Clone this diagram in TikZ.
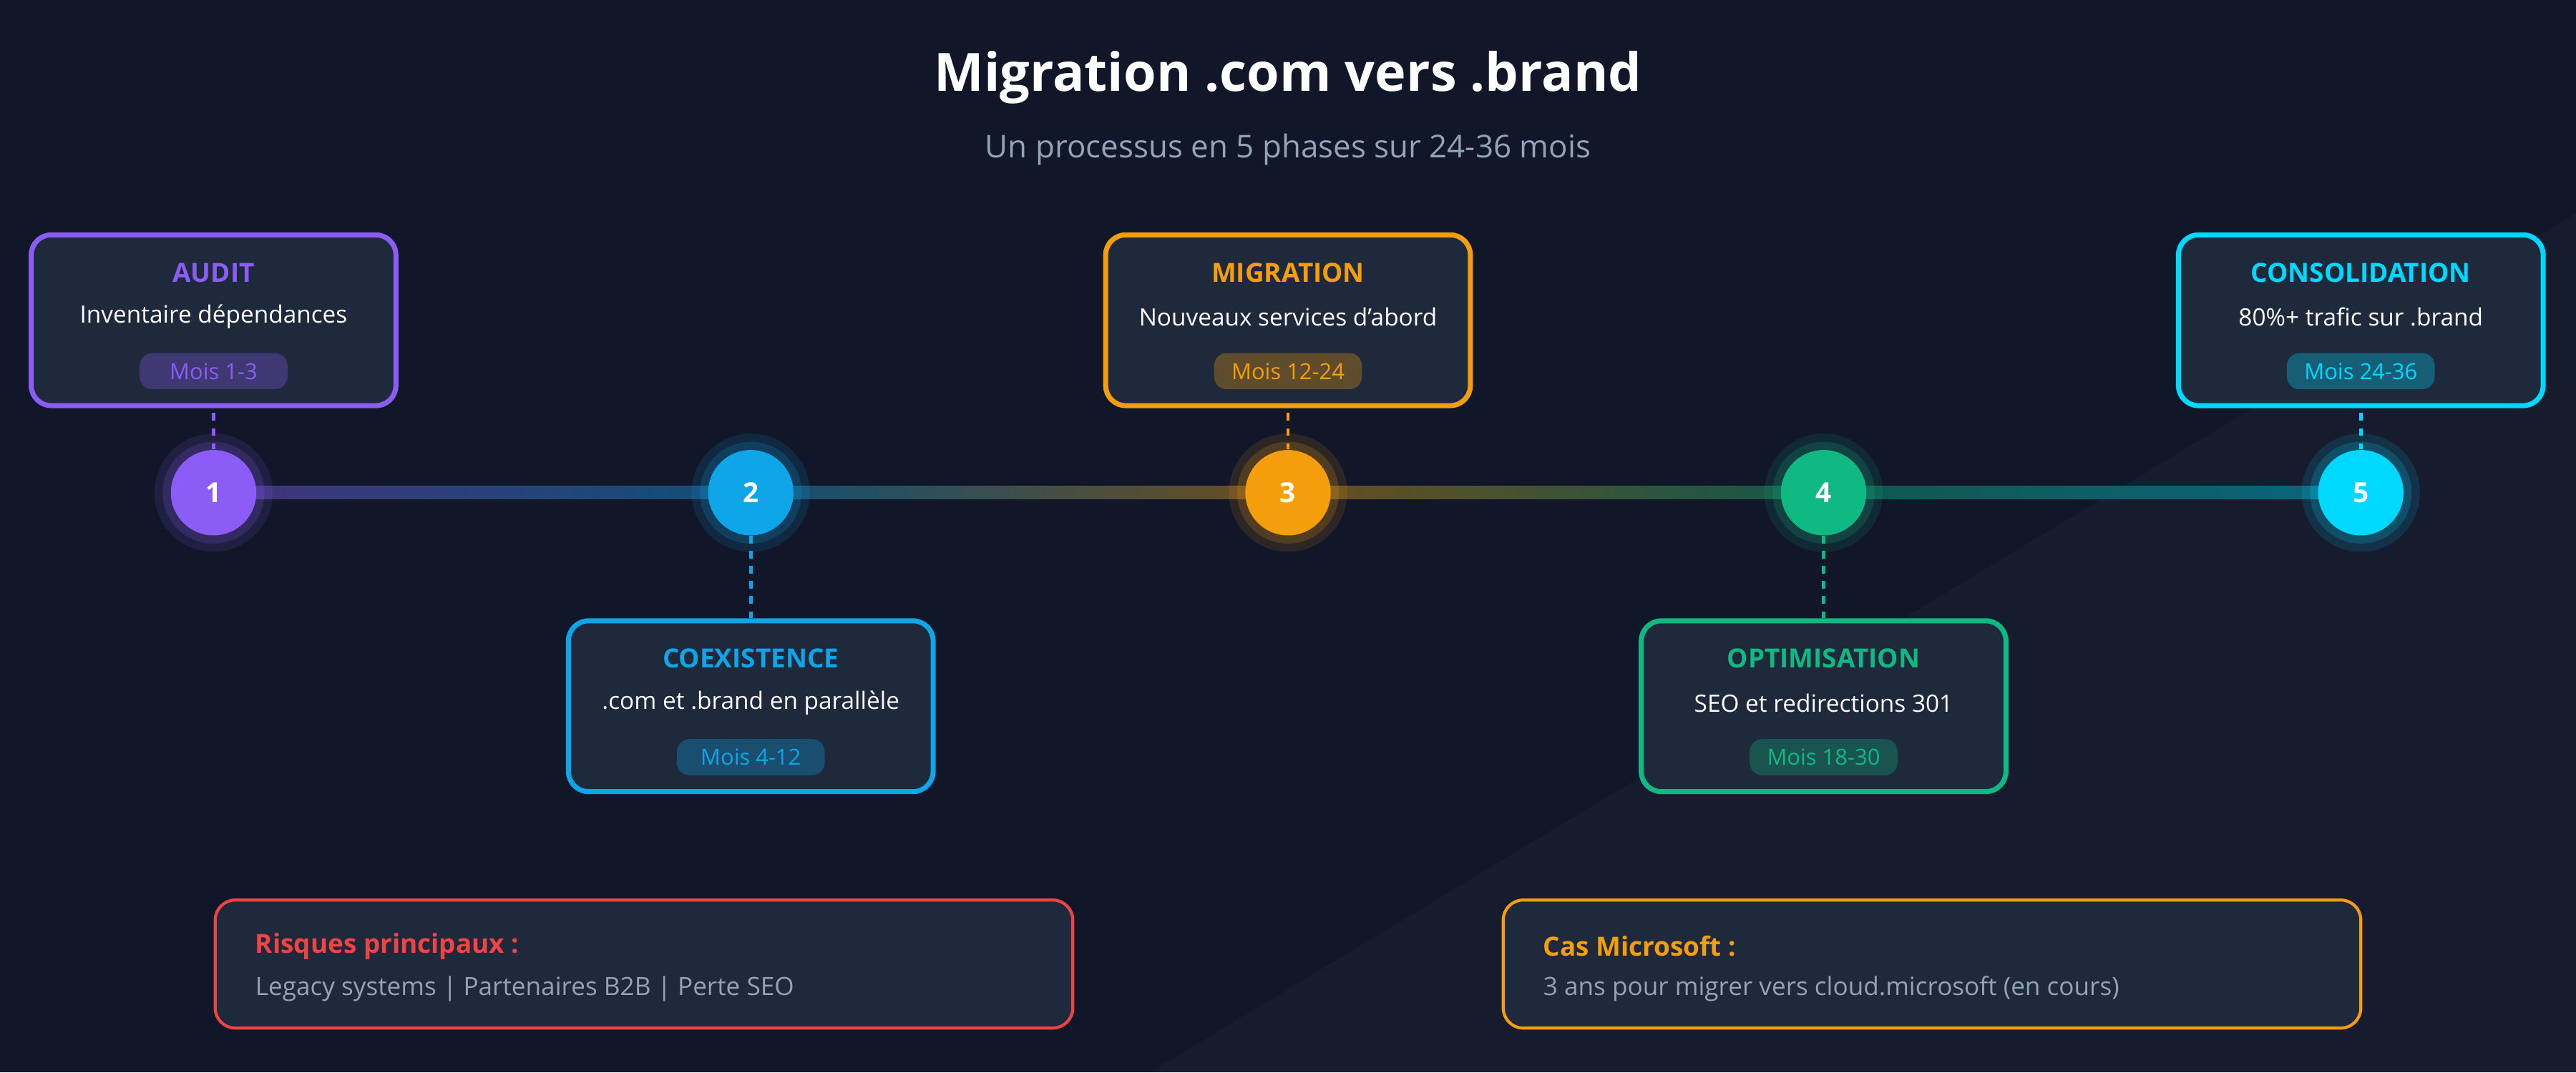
\documentclass[tikz,border=0pt]{standalone}
\usepackage{fontspec}
\setmainfont{Open Sans}
\begin{document}
\definecolor{bg}{HTML}{111729}
\definecolor{boxbg}{HTML}{1E293B}
\definecolor{cA}{HTML}{8B5CF6}
\definecolor{cB}{HTML}{0EA5E9}
\definecolor{cC}{HTML}{F59E0B}
\definecolor{cD}{HTML}{10B981}
\definecolor{cE}{HTML}{00D9FF}
\definecolor{cR}{HTML}{EF4444}
\definecolor{grey}{HTML}{94A3B8}
\begin{tikzpicture}[x=0.02296cm,y=-0.02296cm,
  phase/.style={draw=#1,line width=2pt,fill=boxbg,rounded corners=8pt,minimum width=222*0.02296cm,minimum height=104*0.02296cm},
  ptitle/.style={text=#1,font=\bfseries\fontsize{10.5}{12}\selectfont},
  pdesc/.style={text=white,font=\fontsize{9.5}{11}\selectfont},
  pill/.style={fill=#1!30!boxbg,text=#1,rounded corners=5pt,font=\fontsize{8.8}{10}\selectfont,minimum width=90*0.02296cm,minimum height=22*0.02296cm,inner sep=0pt},
  dot/.style={circle,fill=#1,minimum size=52*0.02296cm,inner sep=0pt,text=white,font=\bfseries\fontsize{11}{12}\selectfont},
  conn/.style={draw=#1,line width=1.4pt,dash pattern=on 3pt off 3pt},
  note/.style={draw=#1,line width=1.2pt,fill=boxbg,rounded corners=8pt,minimum width=522*0.02296cm,minimum height=78*0.02296cm}]
\fill[bg] (0,0) rectangle (1568,653);
\fill[white,opacity=0.025] (700,653) -- (1568,130) -- (1568,653) -- cycle;
\useasboundingbox (0,0) rectangle (1568,653);
\node[text=white,font=\bfseries\fontsize{21}{25}\selectfont] (title) at (784,47) {Migration .com vers .brand};
\node[text=grey,font=\fontsize{12.5}{15}\selectfont] (sub) at (784,91) {Un processus en 5 phases sur 24-36 mois};
% timeline
\foreach \xa/\xb/\ca/\cb in {130/457/cA/cB,457/784/cB/cC,784/1110/cC/cD,1110/1437/cD/cE}
  \shade[left color=\ca!40!bg,right color=\cb!40!bg] (\xa,296) rectangle (\xb,304);
% dots with glow
\foreach \x/\c/\n in {130/cA/1,457/cB/2,784/cC/3,1110/cD/4,1437/cE/5}{
  \fill[\c,opacity=0.12] (\x,300) circle (36);
  \fill[\c,opacity=0.18] (\x,300) circle (31);
  \node[dot=\c] (d\n) at (\x,300) {\n};}
% boxes
\foreach \x/\y/\c/\n/\t/\d/\m in {
  130/195/cA/1/AUDIT/Inventaire dépendances/Mois 1-3,
  457/430/cB/2/COEXISTENCE/.com et .brand en parallèle/Mois 4-12,
  784/195/cC/3/MIGRATION/Nouveaux services d'abord/Mois 12-24,
  1110/430/cD/4/OPTIMISATION/SEO et redirections 301/Mois 18-30,
  1437/195/cE/5/CONSOLIDATION/80\%+ trafic sur .brand/Mois 24-36}{
  \node[phase=\c] (b\n) at (\x,\y) {};
  \node[ptitle=\c] (t\n) at (\x,\y-29) {\t};
  \node[pdesc] (e\n) at (\x,\y-2) {\d};
  \node[pill=\c] (p\n) at (\x,\y+31) {\m};}
\foreach \n/\c in {1/cA,3/cC,5/cE} \draw[conn=\c] (b\n.south) ++(0,3) -- (d\n.north);
\foreach \n/\c in {2/cB,4/cD} \draw[conn=\c] (d\n.south) -- (b\n.north);
% notes
\node[note=cR] (r) at (392,587) {};
\node[anchor=west,text=cR,font=\bfseries\fontsize{10.5}{12}\selectfont] (rt) at (150,576) {Risques principaux :};
\node[anchor=west,text=grey,font=\fontsize{10}{12}\selectfont] (rb) at (150,602) {Legacy systems | Partenaires B2B | Perte SEO};
\node[note=cC] (m) at (1176,587) {};
\node[anchor=west,text=cC,font=\bfseries\fontsize{10.5}{12}\selectfont] (mt) at (934,576) {Cas Microsoft :};
\node[anchor=west,text=grey,font=\fontsize{10}{12}\selectfont] (mb) at (934,602) {3 ans pour migrer vers cloud.microsoft (en cours)};
\end{tikzpicture}
\end{document}
